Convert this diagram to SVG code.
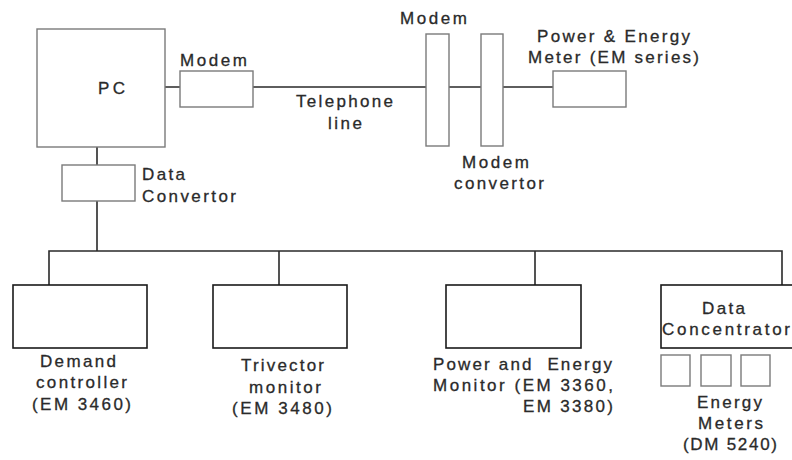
<svg xmlns="http://www.w3.org/2000/svg" width="792" height="460" viewBox="0 0 792 460">
<style>
text{font-family:"Liberation Sans",Arial,sans-serif;font-size:17px;fill:#2a2a2a;stroke:#2a2a2a;stroke-width:0.3;white-space:pre}
.g{fill:#fff;stroke:#7a7a7a;stroke-width:1.4}
.k{fill:#fff;stroke:#1a1a1a;stroke-width:1.6}
.c{fill:none;stroke:#2a2a2a;stroke-width:1.6}
</style>
<rect width="792" height="460" fill="#fff"/>
<g id="connectors">
<path class="c" d="M165 87H180M253 87H426M449 87H481M503 87H553"/>
<path class="c" d="M97 147V165M97 201V251M49 285V251H782V285M279 251V285M535 251V285"/>
</g>
<g id="pc">
<rect class="g" x="37" y="29" width="128" height="118"/>
<text x="98" y="94" textLength="27" lengthAdjust="spacing">PC</text>
</g>
<g id="modem1">
<rect class="g" x="180" y="71" width="73" height="36"/>
<text x="180" y="66" textLength="67" lengthAdjust="spacing">Modem</text>
</g>
<g id="telephone-line">
<text x="296" y="107" textLength="97" lengthAdjust="spacing">Telephone</text>
<text x="328" y="129" textLength="34" lengthAdjust="spacing">line</text>
</g>
<g id="data-convertor">
<rect class="g" x="62" y="165" width="73" height="36"/>
<text x="142" y="180" textLength="43" lengthAdjust="spacing">Data</text>
<text x="142" y="202" textLength="94" lengthAdjust="spacing">Convertor</text>
</g>
<g id="modem2">
<rect class="g" x="426" y="34" width="23" height="112"/>
<text x="400" y="24" textLength="67" lengthAdjust="spacing">Modem</text>
</g>
<g id="modem-convertor">
<rect class="g" x="481" y="34" width="22" height="112"/>
<text x="462" y="168" textLength="67" lengthAdjust="spacing">Modem</text>
<text x="454" y="189" textLength="90" lengthAdjust="spacing">convertor</text>
</g>
<g id="em-meter">
<rect class="g" x="553" y="71" width="73" height="36"/>
<text x="537" y="42" textLength="153" lengthAdjust="spacing">Power &amp; Energy</text>
<text x="528" y="63" textLength="171" lengthAdjust="spacing">Meter (EM series)</text>
</g>
<g id="demand-controller">
<rect class="k" x="13" y="285" width="134" height="63"/>
<text x="40" y="367" textLength="76" lengthAdjust="spacing">Demand</text>
<text x="36" y="388" textLength="91" lengthAdjust="spacing">controller</text>
<text x="32" y="410" textLength="99" lengthAdjust="spacing">(EM 3460)</text>
</g>
<g id="trivector-monitor">
<rect class="k" x="213" y="285" width="134" height="63"/>
<text x="241" y="371" textLength="83" lengthAdjust="spacing">Trivector</text>
<text x="249" y="393" textLength="72" lengthAdjust="spacing">monitor</text>
<text x="232" y="414" textLength="100" lengthAdjust="spacing">(EM 3480)</text>
</g>
<g id="power-energy-monitor">
<rect class="k" x="446" y="285" width="135" height="63"/>
<text x="433" y="370" textLength="179" lengthAdjust="spacing" xml:space="preserve">Power and  Energy</text>
<text x="433" y="391" textLength="180" lengthAdjust="spacing">Monitor (EM 3360,</text>
<text x="523" y="412" textLength="90" lengthAdjust="spacing">EM 3380)</text>
</g>
<g id="data-concentrator">
<rect class="k" x="661" y="285" width="140" height="63"/>
<text x="702" y="314" textLength="43" lengthAdjust="spacing">Data</text>
<text x="662" y="335" textLength="128" lengthAdjust="spacing">Concentrator</text>
</g>
<g id="energy-meters">
<rect class="g" x="661" y="355" width="29" height="31"/>
<rect class="g" x="701" y="355" width="30" height="31"/>
<rect class="g" x="741" y="355" width="29" height="31"/>
<text x="697" y="408" textLength="65" lengthAdjust="spacing">Energy</text>
<text x="698" y="429" textLength="65" lengthAdjust="spacing">Meters</text>
<text x="683" y="450" textLength="94" lengthAdjust="spacing">(DM 5240)</text>
</g>
</svg>
